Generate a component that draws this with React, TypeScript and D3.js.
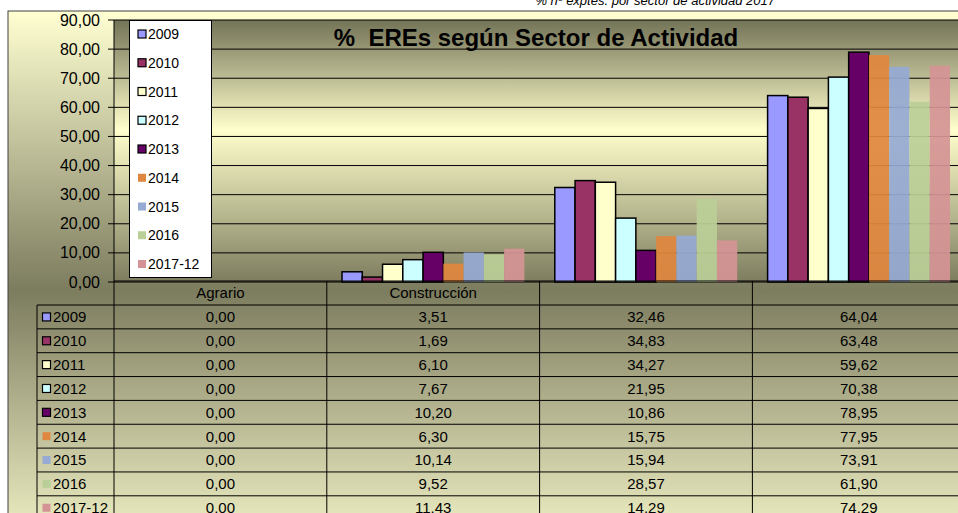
import React from "react";
import * as d3 from "d3";

const categories = ["Agrario", "Construcción", "", ""];
const seriesNames = ["2009", "2010", "2011", "2012", "2013", "2014", "2015", "2016", "2017-12"];
const v2009 = [0, 3.51, 32.46, 64.04];
const v2010 = [0, 1.69, 34.83, 63.48];
const v2011 = [0, 6.1, 34.27, 59.62];
const v2012 = [0, 7.67, 21.95, 70.38];
const v2013 = [0, 10.2, 10.86, 78.95];
const v2014 = [0, 6.3, 15.75, 77.95];
const v2015 = [0, 10.14, 15.94, 73.91];
const v2016 = [0, 9.52, 28.57, 61.9];
const v2017 = [0, 11.43, 14.29, 74.29];
const seriesValues = [v2009, v2010, v2011, v2012, v2013, v2014, v2015, v2016, v2017];
const seriesColors = ["#9999FF", "#993366", "#FFFFCC", "#CCFFFF", "#660066", "#E0873F", "#96AAD3", "#BACF98", "#D49394"];
const outlined = [true, true, true, true, true, false, false, false, false];
const yTicks = [0, 10, 20, 30, 40, 50, 60, 70, 80, 90];
const title = "%\u00A0 EREs según Sector de Actividad";
const subtitle = "% nº exptes. por sector de actividad 2017";

const W = 958;
const H = 513;
const FONT = "Arial, 'Liberation Sans', sans-serif";

const fmt = (v: number) => d3.format(".2f")(v).replace(".", ",");

export default function App() {
  const plotLeft = 114;
  const catW = 212.8;
  const plotTop = 20;
  const plotBottom = 282;
  const x = d3
    .scaleBand<string>()
    .domain(categories.map((c, i) => String(i)))
    .range([plotLeft, plotLeft + catW * categories.length])
    .padding(0);
  const xs = d3
    .scaleBand<string>()
    .domain(seriesNames)
    .range([0, x.bandwidth()])
    .paddingInner(0)
    .paddingOuter(0.75);
  const y = d3.scaleLinear().domain([0, 90]).range([plotBottom, plotTop]);

  const tableTop = 281;
  const headerH = 24;
  const rowH = 23.85;
  const tableLeft = 37;
  const rightEnd = plotLeft + catW * categories.length;

  return (
    <div style={{ position: "absolute", left: 0, top: 0 }}>
      <svg width={W} height={H} style={{ display: "block", fontFamily: FONT }}>
        <defs>
          <linearGradient id="chartBg" x1="0" y1="11" x2="0" y2="570" gradientUnits="userSpaceOnUse">
            <stop offset="0" stopColor="#FFFFD2" />
            <stop offset="0.5" stopColor="#7C7C5F" />
            <stop offset="1" stopColor="#FFFFD2" />
          </linearGradient>
          <linearGradient id="plotBg" x1="0" y1={plotTop} x2="0" y2={plotBottom} gradientUnits="userSpaceOnUse">
            <stop offset="0" stopColor="#737357" />
            <stop offset="0.42" stopColor="#FFFFCC" />
            <stop offset="1" stopColor="#7D7D5F" />
          </linearGradient>
        </defs>
        <rect x={0} y={0} width={W} height={H} fill="#FFFFFF" />
        <text x={775} y={5} textAnchor="end" fontSize={13} fontStyle="italic" fill="#000">
          {subtitle}
        </text>
        <rect x={8} y={11} width={W} height={H} fill="url(#chartBg)" stroke="#404040" strokeWidth={1} />
        <rect x={plotLeft} y={plotTop} width={rightEnd - plotLeft} height={plotBottom - plotTop} fill="url(#plotBg)" />
        {yTicks.map((t) => (
          <line key={"g" + t} x1={plotLeft - 6} x2={rightEnd} y1={y(t)} y2={y(t)} stroke="#000" strokeWidth={1} />
        ))}
        {yTicks.map((t) => (
          <text key={"t" + t} x={100} y={y(t)} dy="0.35em" textAnchor="end" fontSize={16} fill="#000">
            {fmt(t)}
          </text>
        ))}
        <line x1={plotLeft} x2={plotLeft} y1={plotTop} y2={H} stroke="#000" strokeWidth={1} />
        {seriesNames.map((s, si) =>
          categories.map((c, ci) => {
            const v = seriesValues[si][ci];
            const bx = (x(String(ci)) as number) + (xs(s) as number);
            const by = y(v);
            return (
              <rect
                key={s + "-" + ci}
                x={bx}
                y={by}
                width={xs.bandwidth()}
                height={y(0) - by}
                fill={seriesColors[si]}
                fillOpacity={outlined[si] ? 1 : 0.93}
                stroke={outlined[si] ? "#000" : "none"}
                strokeWidth={1.5}
              />
            );
          })
        )}
        <text x={536} y={46} textAnchor="middle" fontSize={24} fontWeight="bold" fill="#000">
          {title}
        </text>
        <rect x={129.5} y={20.5} width={82} height={257} fill="#FFFFFF" stroke="#000" strokeWidth={1} />
        {seriesNames.map((s, si) => {
          const cy = 34 + si * 28.75;
          return (
            <g key={"lg" + s}>
              <rect
                x={138}
                y={cy - 4}
                width={8}
                height={8}
                fill={seriesColors[si]}
                stroke={outlined[si] ? "#000" : "none"}
                strokeWidth={1.2}
              />
              <text x={148} y={cy} dy="0.36em" fontSize={14} fill="#000">
                {s}
              </text>
            </g>
          );
        })}
        <line x1={plotLeft} x2={W} y1={tableTop} y2={tableTop} stroke="#000" strokeWidth={1} />
        {categories.map((c, ci) => (
          <g key={"hc" + ci}>
            <line
              x1={(x(String(ci)) as number) + catW}
              x2={(x(String(ci)) as number) + catW}
              y1={tableTop}
              y2={H}
              stroke="#000"
              strokeWidth={1}
            />
            <text
              x={(x(String(ci)) as number) + catW / 2}
              y={tableTop + headerH / 2}
              dy="0.36em"
              textAnchor="middle"
              fontSize={15}
              fill="#000"
            >
              {c}
            </text>
          </g>
        ))}
        <line x1={tableLeft} x2={tableLeft} y1={tableTop + headerH} y2={H} stroke="#000" strokeWidth={1} />
        {seriesNames.map((s, si) => {
          const ry = tableTop + headerH + si * rowH;
          return (
            <g key={"row" + s}>
              <line x1={tableLeft} x2={W} y1={ry} y2={ry} stroke="#000" strokeWidth={1} />
              <rect
                x={42.5}
                y={ry + rowH / 2 - 4}
                width={8}
                height={8}
                fill={seriesColors[si]}
                stroke={outlined[si] ? "#000" : "none"}
                strokeWidth={1.2}
              />
              <text x={53} y={ry + rowH / 2} dy="0.36em" fontSize={15} fill="#000">
                {s}
              </text>
              {categories.map((c, ci) => (
                <text
                  key={"cell" + ci}
                  x={(x(String(ci)) as number) + catW / 2}
                  y={ry + rowH / 2}
                  dy="0.36em"
                  textAnchor="middle"
                  fontSize={15}
                  fill="#000"
                >
                  {fmt(seriesValues[si][ci])}
                </text>
              ))}
            </g>
          );
        })}
      </svg>
    </div>
  );
}
